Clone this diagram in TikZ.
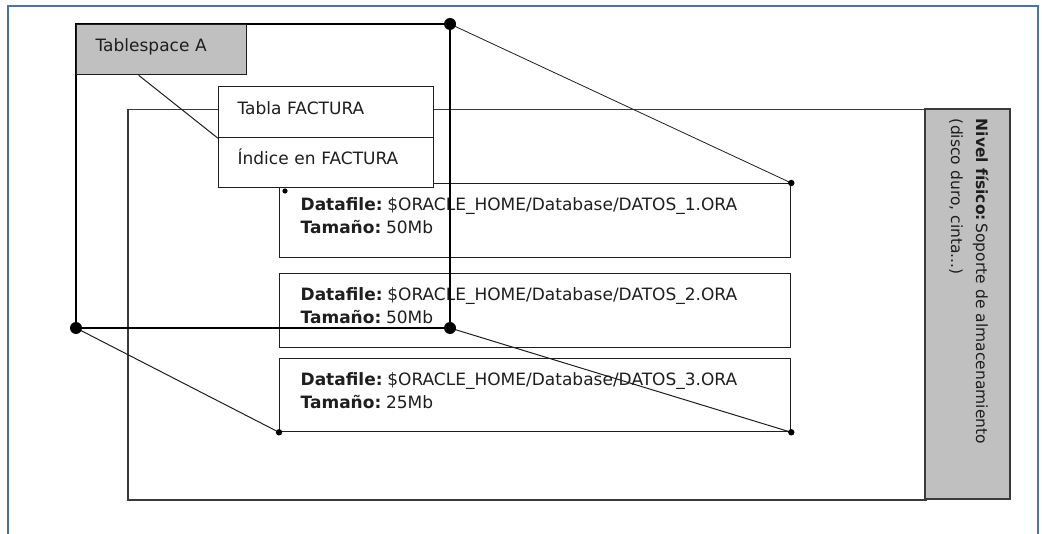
\documentclass[tikz,border=0pt]{standalone}
\usepackage{fontspec}
\setmainfont{DejaVu Sans}
\usetikzlibrary{calc}
\definecolor{frameblue}{HTML}{4A72B0}
\definecolor{boxgray}{HTML}{C0C0C0}
\definecolor{physline}{HTML}{3A3A3A}
\definecolor{ink}{HTML}{1E1E1E}
\tikzset{
  plainbox/.style={draw=ink, line width=1.3pt, fill=white, inner ysep=0pt, anchor=north west,
    text=ink, align=left, inner xsep=19pt},
  graybox/.style={plainbox, fill=boxgray},
  filebox/.style={plainbox, fill=none, minimum width=511pt, minimum height=74pt,
    text width=469pt, inner xsep=21pt, text height=12pt, text depth=32pt},
  link/.style={draw=ink, line width=1pt},
  bigdot/.style={fill=black, radius=6pt},
  smalldot/.style={fill=black, radius=3.2pt},
  tsframe/.style={draw=black, line width=2.4pt}
}
\begin{document}
\begin{tikzpicture}[x=1pt, y=-1pt, font=\fontsize{17}{23}\selectfont]
\useasboundingbox (0,0) rectangle (1042,534);
% page frame
\draw[frameblue, line width=1.6pt] (8,540) -- (8,6) -- (1038,6) -- (1038,540);

% physical storage level
\node[draw=physline, line width=1.5pt, minimum width=798pt, minimum height=390pt,
      inner sep=0pt, anchor=north west] (phys) at (127,109) {};
\node[draw=physline, fill=boxgray, line width=1.5pt, rotate=-90,
      minimum width=390pt, minimum height=85pt, inner sep=0pt,
      text width=370pt, align=left, text=ink, text height=12pt, text depth=29pt,
      font=\fontsize{15.5}{25}\selectfont] (level) at (967.5,304)
  {\textbf{Nivel físico:}\,Soporte de almacenamiento\\(disco duro, cinta...)};

% datafiles
\node[filebox] (df1) at (279,183)
  {\textbf{Datafile:}\hspace{0.28em}\$ORACLE\_HOME/Database/DATOS\_1.ORA\\\textbf{Tamaño:}\hspace{0.28em}50Mb};
\node[filebox] (df2) at (279,273)
  {\textbf{Datafile:}\hspace{0.28em}\$ORACLE\_HOME/Database/DATOS\_2.ORA\\\textbf{Tamaño:}\hspace{0.28em}50Mb};
\node[filebox, minimum height=73pt] (df3) at (279,358)
  {\textbf{Datafile:}\hspace{0.28em}\$ORACLE\_HOME/Database/DATOS\_3.ORA\\\textbf{Tamaño:}\hspace{0.28em}25Mb};

% tablespace outline
\coordinate (tl) at (76,24);
\coordinate (tr) at (450,24);
\coordinate (bl) at (76,328);
\coordinate (br) at (450,328);
\draw[tsframe] (tl) -- (tr) -- (br) -- (bl) -- cycle;

% logical objects
\node[graybox, minimum width=170pt, minimum height=50pt, text width=132pt,
      text height=12pt, text depth=8.6pt] (ts) at (76,24) {Tablespace A};
\node[plainbox, minimum width=215pt, minimum height=51pt, text width=177pt,
      text height=12pt, text depth=6.4pt] (tabla) at (218,86) {Tabla FACTURA};
\node[plainbox, minimum width=215pt, minimum height=50pt, text width=177pt,
      text height=12pt, text depth=7.4pt] (indice) at (218,137) {Índice en FACTURA};

% connectors
\coordinate (tsfoot) at ($(ts.south west)!0.366!(ts.south east)$);
\draw[link] (tsfoot) -- (tabla.south west);
\draw[link, line width=0.8pt] (tr) -- (df1.north east);
\draw[link] (bl) -- (df3.south west);
\draw[link] (br) -- (df3.south east);

% junction dots
\fill[bigdot] (tr) circle;
\fill[bigdot] (bl) circle;
\fill[bigdot] (br) circle;
\fill[smalldot] (df1.north east) circle;
\fill[smalldot] (df3.south west) circle;
\fill[smalldot] (df3.south east) circle;
\coordinate (dfmark) at ($(df1.north west)+(6,8)$);
\fill[smalldot, radius=2.6pt] (dfmark) circle;
\end{tikzpicture}
\end{document}
